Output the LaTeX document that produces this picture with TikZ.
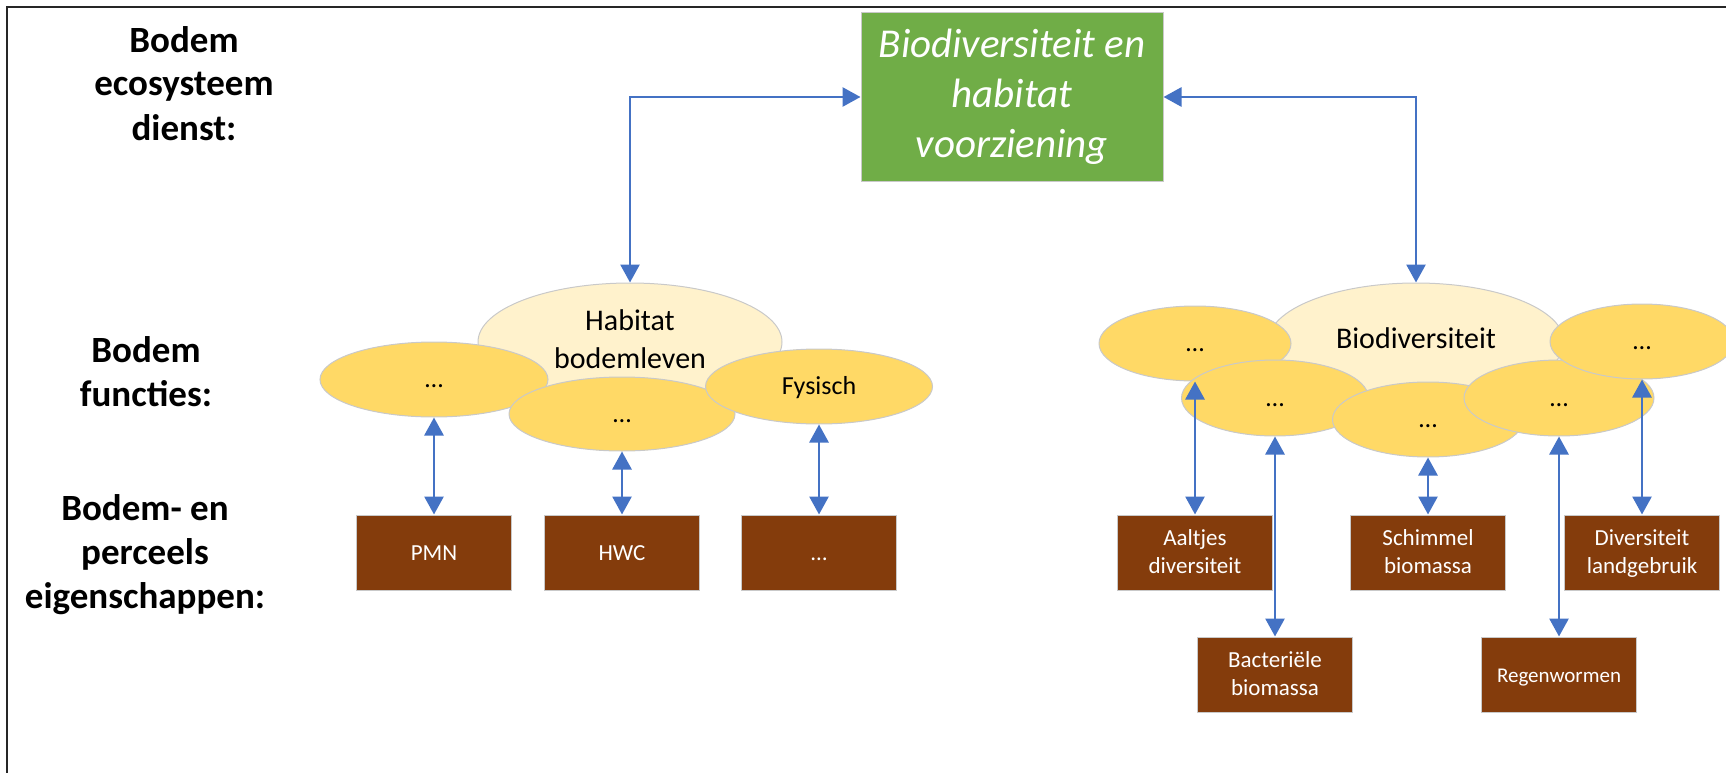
\documentclass[tikz,border=0pt]{standalone}
\usepackage{fontspec}
\setmainfont{Carlito}
\usetikzlibrary{arrows.meta,shapes.geometric}
\definecolor{ogreen}{HTML}{70AD47}
\definecolor{ogold}{HTML}{FFD966}
\definecolor{olight}{HTML}{FFF2CC}
\definecolor{obrown}{HTML}{843C0C}
\definecolor{oblue}{HTML}{4472C4}
\definecolor{oedge}{HTML}{C9C9C9}
\begin{document}
\begin{tikzpicture}[x=1pt,y=-1pt,
  lab/.style={font=\bfseries\fontsize{37}{44}\selectfont, align=center, anchor=base, inner sep=0pt},
  bigell/.style={ellipse, fill=olight, draw=oedge, line width=1pt, inner sep=0pt, font=\fontsize{30}{38}\selectfont},
  smell/.style={ellipse, fill=ogold, draw=oedge, line width=1pt, inner sep=0pt, font=\fontsize{26}{31}\selectfont, text height=20pt, text depth=4pt},
  prop/.style={rectangle, fill=obrown, draw=oedge, line width=1pt, minimum width=155pt, minimum height=75pt, inner sep=0pt, text=white, font=\fontsize{23}{28}\selectfont, align=center},
  oneline/.style={text height=15pt, text depth=0pt},
  twoline/.style={text height=45pt, text depth=4pt},
  conn/.style={draw=oblue, line width=2.8pt, {Triangle[length=18pt 0 0,width=19pt 0 0]}-{Triangle[length=18pt 0 0,width=19pt 0 0]}}
]
\useasboundingbox (0,0) rectangle (1726,773);
% frame
\draw[line width=2pt, black!85] (7,773) -- (7,7) -- (1726,7);

% row labels (anchored at the baseline of the last line)
\node[lab] (lab1) at (184,140) {Bodem\\ecosysteem\\dienst:};
\node[lab] (lab2) at (146,406) {Bodem\\functies:};
\node[lab] (lab3) at (145,608) {Bodem- en\\perceels\\eigenschappen:};

% service
\node[draw=oedge, fill=ogreen, line width=1pt, minimum width=302pt, minimum height=168pt, inner sep=0pt, text=white,
      font=\itshape\fontsize{41}{50}\selectfont, align=center] (svc) at (1012,97) {Biodiversiteit en\\habitat\\voorziening};

% left cluster
\node[bigell, minimum width=304pt, minimum height=118pt] (hab) at (630,342) {};
\node[font=\fontsize{30}{38}\selectfont, align=center, anchor=base, inner sep=0pt] (habt) at (630,368) {Habitat\\bodemleven};
\node[smell, minimum width=228pt, minimum height=75pt] (l1) at (434,379.5) {…};
\node[smell, minimum width=226pt, minimum height=74pt] (l2) at (622,414) {…};
\node[smell, minimum width=227pt, minimum height=75pt] (l3) at (819,386.5) {Fysisch};

% right cluster
\node[bigell, minimum width=296pt, minimum height=118pt, text height=22pt, text depth=10pt] (bio) at (1416,342) {Biodiversiteit};
\node[smell, minimum width=192pt, minimum height=75pt] (r1) at (1195,343.5) {…};
\node[smell, minimum width=187pt, minimum height=76pt] (r2) at (1275,398) {…};
\node[smell, minimum width=191pt, minimum height=75pt] (r3) at (1428,419.5) {…};
\node[smell, minimum width=190pt, minimum height=76pt] (r4) at (1559,398) {…};
\node[smell, minimum width=184pt, minimum height=75pt] (r5) at (1642,341.5) {…};

% property boxes
\node[prop, oneline] (pmn) at (434,552.5) {PMN};
\node[prop, oneline] (hwc) at (622,552.5) {HWC};
\node[prop, oneline] (pdots) at (819,552.5) {…};
\node[prop, twoline] (aal) at (1195,552.5) {Aaltjes\\diversiteit};
\node[prop, twoline] (sch) at (1428,552.5) {Schimmel\\biomassa};
\node[prop, twoline] (div) at (1642,552.5) {Diversiteit\\landgebruik};
\node[prop, twoline] (bac) at (1275,674.5) {Bacteriële\\biomassa};
\node[prop, oneline, font=\fontsize{21}{26}\selectfont] (reg) at (1559,674.5) {Regenwormen};

% connectors
\draw[conn] (hab.north) |- (svc.west);
\draw[conn] (svc.east) -| (bio.north);
\draw[conn] (l1.south) -- (pmn.north);
\draw[conn] (l2.south) -- (hwc.north);
\draw[conn] (l3.south) -- (pdots.north);
\draw[conn] (r1.south) -- (aal.north);
\draw[conn] (r2.south) -- (bac.north);
\draw[conn] (r3.south) -- (sch.north);
\draw[conn] (r4.south) -- (reg.north);
\draw[conn] (r5.south) -- (div.north);
\end{tikzpicture}
\end{document}
